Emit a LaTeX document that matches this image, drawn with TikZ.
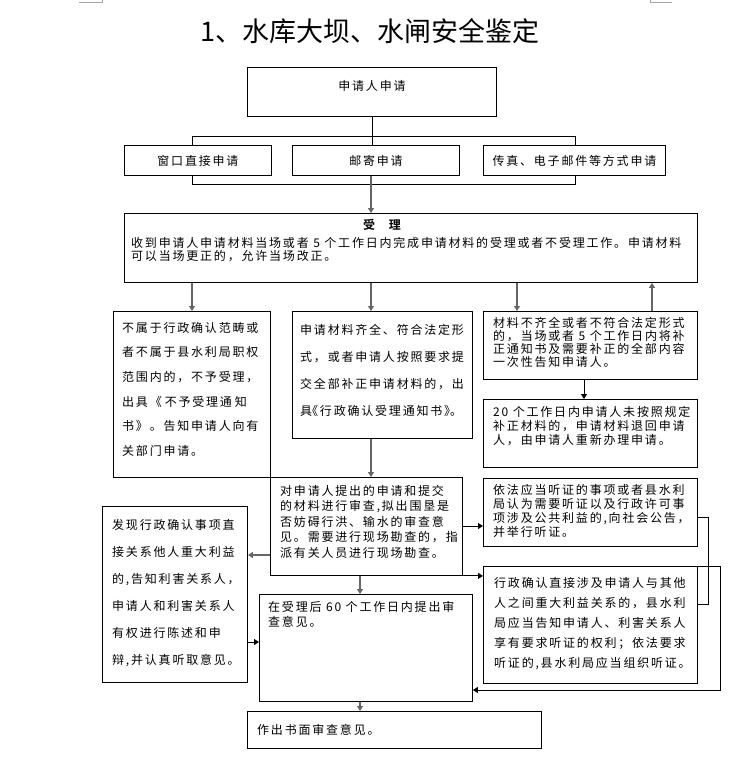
\documentclass[tikz,border=0pt]{standalone}
\usepackage{fontspec}
\newfontfamily\cjk{Noto Sans CJK SC}[LetterSpace=15,BoldFont={Noto Sans CJK SC Bold}]
\newfontfamily\cjktitle{Noto Sans CJK SC}
\usetikzlibrary{arrows.meta, calc}

\begin{document}
\begin{tikzpicture}[
    x=1pt, y=-1pt,
    box/.style={rectangle, draw, line width=0.9pt, anchor=north west, inner sep=0pt},
    txt/.style={anchor=north west, inner sep=0pt, align=left, font=\cjk\fontsize{12}{#1}\selectfont},
    ctxt/.style={inner sep=0pt, font=\cjk\fontsize{12}{14}\selectfont},
    link/.style={line width=0.9pt},
    arr/.style={-{Triangle[length=5pt,width=6pt]}, line width=0.9pt},
    garr/.style={arr, draw=black!60, fill=black!60, line width=1.3pt},
]
\useasboundingbox (0,0) rectangle (738,757);

% Page marks
\draw[black!35, line width=0.8pt] (79,2.5) -- (102,2.5) -- (102,0);
\draw[black!35, line width=0.8pt] (650,0) -- (650,2.5) -- (672,2.5);

% Title
\node[font=\cjktitle\fontsize{27}{30}\selectfont] (title) at (370,31) {1、水库大坝、水闸安全鉴定};

% Columns and rows used by the connectors
\coordinate (c1) at (192,0);
\coordinate (c2) at (371,0);
\coordinate (c3) at (517,0);
\coordinate (c4) at (652,0);
\coordinate (c5) at (584,0);
\coordinate (c6) at (360,0);
\coordinate (cl) at (192,0);
\coordinate (cr) at (575,0);
\coordinate (r1) at (0,555);
\coordinate (r2) at (0,642);
\coordinate (r3) at (0,526);
\coordinate (r4) at (0,517);
\coordinate (r5) at (0,604);
\coordinate (r6) at (0,690);

% Application
\node[box, minimum width=249pt, minimum height=49pt] (app) at (247,67) {};
\node[ctxt] (appt) at (372,86) {申请人申请};

% Three ways to apply
\node[box, minimum width=147pt, minimum height=30pt] (win) at (124,145) {};
\node[ctxt] (wint) at (win.center) {窗口直接申请};
\node[box, minimum width=167pt, minimum height=30pt] (post) at (292,145) {};
\node[ctxt] (postt) at (post.center) {邮寄申请};
\node[box, minimum width=182pt, minimum height=30pt] (fax) at (483,145) {};
\node[ctxt] (faxt) at (fax.center) {传真、电子邮件等方式申请};

% Acceptance
\node[box, minimum width=573pt, minimum height=69pt] (acc) at (124,213) {};
\node[ctxt, font=\cjk\bfseries\fontsize{12}{14}\selectfont] (acch) at (382,225) {受\hspace{14pt}理};
\node[txt=13] (acct) at (131,237) {收到申请人申请材料当场或者 5 个工作日内完成申请材料的受理或者不受理工作。申请材料\\可以当场更正的，允许当场改正。};

% Second row
\node[box, minimum width=157pt, minimum height=166pt] (no) at (113,311) {};
\node[txt=24.6] (not) at (122,322) {不属于行政确认范畴或\\者不属于县水利局职权\\范围内的，不予受理，\\出具《\hspace{3pt}不予受理通\hspace{3pt}知\\书》。告知申请人向有\\关部门申请。};

\node[box, minimum width=180pt, minimum height=127pt] (ok) at (292,311) {};
\node[txt=27] (okt) at (300,324) {申请材料齐全、符合法定形\\式，或者申请人按照要求提\\交全部补正申请材料的，出\\具\kern-6pt《行政确认受理通知书》\kern-6pt。};

\node[box, minimum width=214pt, minimum height=68pt] (miss) at (483,311) {};
\node[txt=13] (misst) at (493,317) {材料不齐全或者不符合法定形式\\的，当场或者 5 个工作日内将补\\正通知书及需要补正的全部内容\\一次性告知申请人。};

\node[box, minimum width=214pt, minimum height=68pt] (ret) at (483,399) {};
\node[txt=14] (rett) at (493,406) {20 个工作日内申请人未按照规定\\补正材料的，申请材料退回申请\\人，由申请人重新办理申请。};

% Review
\node[box, minimum width=192pt, minimum height=98pt] (rev) at (270,477) {};
\node[txt=15.5] (revt) at (280,485) {对申请人提出的申请和提交\\的材料进行审查,拟出围垦是\\否妨碍行洪、输水的审查意\\见。需要进行现场勘查的，指\\派有关人员进行现场勘查。};

\node[box, minimum width=214pt, minimum height=68pt] (hear) at (483,478) {};
\node[txt=14] (heart) at (493,484) {依法应当听证的事项或者县水利\\局认为需要听证以及行政许可事\\项涉及公共利益的,向社会公告，\\并举行听证。};

\node[box, minimum width=214pt, minimum height=117pt] (rel) at (483,566) {};
\node[txt=20] (relt) at (494,577) {行政确认直接涉及申请人与其他\\人之间重大利益关系的，县水利\\局应当告知申请人、利害关系人\\享有要求听证的权利；依法要求\\听证的,县水利局应当组织听证。};

\node[box, minimum width=145pt, minimum height=176pt] (found) at (102,506) {};
\node[txt=27] (foundt) at (112,519) {发现行政确认事项直\\接关系他人重大利益\\的,告知利害关系人，\\申请人和利害关系人\\有权进行陈述和申\\辩,并认真听取意见。};

\node[box, minimum width=213pt, minimum height=107pt] (sixty) at (259,594) {};
\node[txt=15] (sixtyt) at (268,601) {在受理后 60 个工作日内提出审\\查意见。};

\node[box, minimum width=294pt, minimum height=37pt] (fin) at (247,711) {};
\node[txt=14] (fint) at (257,724) {作出书面审查意见。};

% Connectors, top part
\draw[link] (app.south) -- (app.south |- post.north);
\draw[link] (win.north -| cl) -- ++(0,-9) -| (fax.north -| cr);
\draw[link] (win.south -| cl) -- ++(0,9) -| (fax.south -| cr);
\draw[garr] (post.south -| c2) -- (acc.north -| c2);

% From acceptance
\draw[garr] (acc.south -| c1) -- (no.north -| c1);
\draw[garr] (acc.south -| c2) -- (ok.north -| c2);
\draw[garr] (acc.south -| c3) -- (miss.north -| c3);
\draw[garr] (miss.north -| c4) -- (acc.south -| c4);
\draw[arr] (miss.south -| c5) -- (ret.north -| c5);
\draw[garr] (ok.south -| c2) -- (rev.north -| c2);

% From review
\draw[garr] (rev.west |- r1) -- (found.east |- r1);
\draw[arr] (found.east |- r2) -- (sixty.west |- r2);
\draw[arr] (rev.east |- r3) -- (hear.west |- r3);
\draw[arr] (rev.south east) -- (rel.west |- rev.south east);
\draw[garr] (rev.south -| c6) -- (sixty.north -| c6);

% Hearing
\draw[link] (hear.east |- r4) -- ++(11,0) |- (rel.east |- r5);
\draw[arr] (rel.north east) -- ++(23,0) |- (sixty.east |- r6);
\draw[garr] (sixty.south -| c6) -- (fin.north -| c6);

\end{tikzpicture}
\end{document}
